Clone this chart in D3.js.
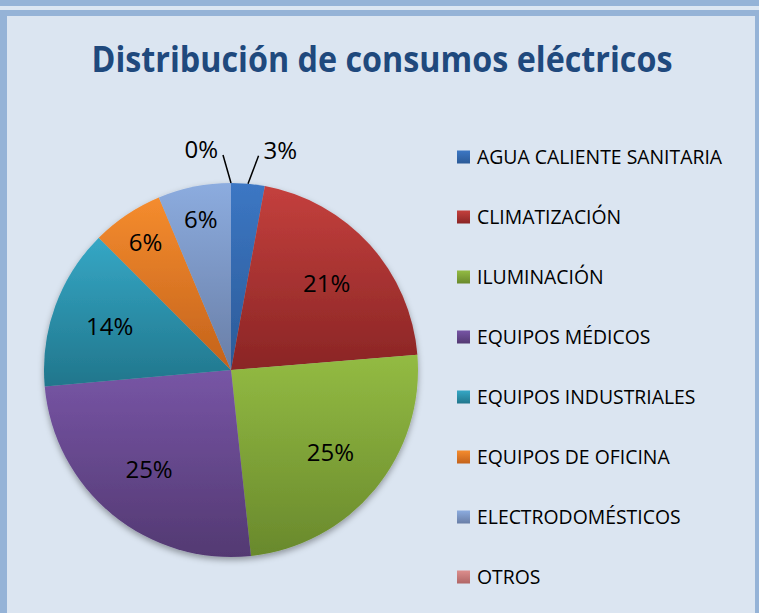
<!DOCTYPE html>
<html>
<head>
<meta charset="utf-8">
<script src="https://cdn.jsdelivr.net/npm/d3@7"></script>
<style>
    html, body { margin: 0; padding: 0; background: #dbe5f1; }
    svg { display: block; }
</style>
</head>
<body>
<svg id="chart" width="759" height="613"></svg>
<script>
// Data
const CATEGORIES = [
    'AGUA CALIENTE SANITARIA',
    'CLIMATIZACIÓN',
    'ILUMINACIÓN',
    'EQUIPOS MÉDICOS',
    'EQUIPOS INDUSTRIALES',
    'EQUIPOS DE OFICINA',
    'ELECTRODOMÉSTICOS',
    'OTROS'
];
const VALUES = [2.9, 20.8, 24.6, 25.3, 13.9, 6.2, 6.3, 0];
const TITLE = 'Distribución de consumos eléctricos';

const chart = (function () {

    // Constants
    const WIDTH = 759;
    const HEIGHT = 613;
    const BORDER = '#95b3d7';
    const PANEL = '#dbe5f1';
    const CENTER = { x: 231, y: 370 };
    const RADIUS = 187;
    const LEGEND_X = 457;
    const LEGEND_Y = 157;
    const LEGEND_STEP = 60;
    const SWATCH = 13;
    // top / bottom shade of each slice gradient
    const PALETTE = [
        ['#3c77c4', '#2b5a97'],
        ['#c4403d', '#8a2525'],
        ['#93bb43', '#69892c'],
        ['#7755a5', '#533972'],
        ['#35a7c5', '#21768c'],
        ['#f58c2e', '#c3621b'],
        ['#8cacdf', '#697ea6'],
        ['#dc8e8d', '#b06666']
    ];

    let svg = d3.select('#chart'),
        defs = svg.append('defs'),
        total = d3.sum(VALUES),
        pct = (v) => Math.round(v / total * 100) + '%'
    ;

    return { init };

    function init() {
        drawFrame();
        drawTitle();
        drawPie();
        drawLegend();
    }

    function drawFrame() {
        svg.append('rect').attr('width', WIDTH).attr('height', HEIGHT).attr('fill', BORDER);
        svg.append('rect')
            .attr('x', 0).attr('y', 6).attr('width', WIDTH).attr('height', 4)
            .attr('fill', '#dce6f2');
        svg.append('rect')
            .attr('x', 7).attr('y', 16).attr('width', 748).attr('height', HEIGHT - 16)
            .attr('fill', PANEL);
    }

    function drawTitle() {
        svg.append('text')
            .attr('x', 382)
            .attr('y', 72)
            .attr('text-anchor', 'middle')
            .attr('font-family', '"Open Sans", sans-serif')
            .attr('font-weight', 'bold')
            .attr('font-size', 35)
            .attr('fill', '#1f497d')
            .attr('textLength', 581)
            .attr('lengthAdjust', 'spacingAndGlyphs')
            .text(TITLE);
    }

    function drawPie() {
        // Gradients
        defs.selectAll('linearGradient')
            .data(PALETTE)
            .enter().append('linearGradient')
                .attr('id', (d, i) => 'grad' + i)
                .attr('x1', 0).attr('y1', 0).attr('x2', 0).attr('y2', 1)
                .selectAll('stop')
                .data((d) => d)
                .enter().append('stop')
                    .attr('offset', (d, i) => i)
                    .attr('stop-color', (d) => d)
        ;

        let shadow = defs.append('filter')
            .attr('id', 'shadow')
            .attr('x', '-10%').attr('y', '-10%').attr('width', '120%').attr('height', '125%');
        shadow.append('feDropShadow')
            .attr('dx', 0).attr('dy', 3)
            .attr('stdDeviation', 3)
            .attr('flood-color', '#000')
            .attr('flood-opacity', 0.35);

        let pie = d3.pie().sort(null).value((d) => d);
        let arcs = pie(VALUES);
        let arc = d3.arc().innerRadius(0).outerRadius(RADIUS);

        let g = svg.append('g')
            .attr('transform', 'translate(' + CENTER.x + ',' + CENTER.y + ')');

        // Slices
        g.append('g')
            .attr('filter', 'url(#shadow)')
            .selectAll('path')
            .data(arcs)
            .enter().append('path')
                .attr('d', arc)
                .attr('fill', (d, i) => 'url(#grad' + i + ')')
        ;

        // Labels
        let point = (a, r) => [Math.sin(a) * r, -Math.cos(a) * r];
        let mid = (d) => (d.startAngle + d.endAngle) / 2;
        let share = (d) => d.value / total;

        let inside = arcs.filter((d) => share(d) >= 0.05);
        let outside = arcs.filter((d) => share(d) < 0.05);

        g.append('g')
            .selectAll('text')
            .data(inside)
            .enter().append('text')
                .attr('transform', (d) => 'translate(' + point(mid(d), RADIUS * (share(d) < 0.1 ? 0.82 : 0.69)) + ')')
                .attr('text-anchor', 'middle')
                .attr('dy', '0.36em')
                .attr('font-family', '"Open Sans", sans-serif')
                .attr('font-size', 24)
                .attr('fill', '#000')
                .text((d) => pct(d.value))
        ;

        let side = (d) => mid(d) > Math.PI ? -1 : 1;
        let lineEnd = (d) => {
            let p = point(mid(d), RADIUS * 1.15);
            return [p[0] + side(d) * 8, p[1]];
        };

        let outer = g.append('g')
            .selectAll('g')
            .data(outside)
            .enter().append('g');
        outer.append('line')
            .attr('x1', (d) => point(mid(d), RADIUS)[0])
            .attr('y1', (d) => point(mid(d), RADIUS)[1])
            .attr('x2', (d) => lineEnd(d)[0])
            .attr('y2', (d) => lineEnd(d)[1])
            .attr('stroke', '#000')
            .attr('stroke-width', 1.5);
        outer.append('text')
            .attr('x', (d) => lineEnd(d)[0] + side(d) * 5)
            .attr('y', (d) => lineEnd(d)[1] + 3)
            .attr('text-anchor', (d) => side(d) > 0 ? 'start' : 'end')
            .attr('font-family', '"Open Sans", sans-serif')
            .attr('font-size', 24)
            .attr('fill', '#000')
            .text((d) => pct(d.value));
    }

    function drawLegend() {
        let items = svg.append('g')
            .selectAll('g')
            .data(CATEGORIES)
            .enter().append('g')
                .attr('transform', (d, i) => 'translate(' + LEGEND_X + ',' + (LEGEND_Y + i * LEGEND_STEP) + ')')
        ;
        items.append('rect')
            .attr('y', -SWATCH / 2)
            .attr('width', SWATCH)
            .attr('height', SWATCH)
            .attr('fill', (d, i) => 'url(#grad' + i + ')');
        items.append('text')
            .attr('transform', 'translate(20,0) scale(0.97,1)')
            .attr('dy', '0.36em')
            .attr('font-family', '"Open Sans", sans-serif')
            .attr('font-size', 20)
            .attr('fill', '#000')
            .text((d) => d);
    }

}());

chart.init();
</script>
</body>
</html>
